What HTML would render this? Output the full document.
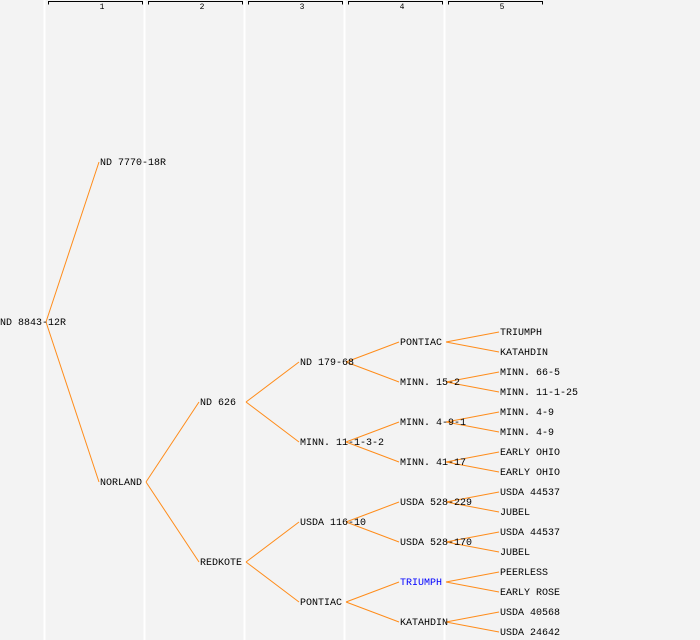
<!DOCTYPE html>
<html><head><style>
html,body{margin:0;padding:0;background:#f3f3f3;}
svg{display:block;}
text{font-family:"Liberation Mono","DejaVu Sans Mono",monospace;font-size:10px;fill:#000;}
.h{font-size:8px;text-anchor:middle;}
</style></head><body>
<svg width="700" height="640" viewBox="0 0 700 640">
<rect width="700" height="640" fill="#f3f3f3"/>
<g stroke="#fff" stroke-width="2">
<line x1="44.5" y1="0" x2="44.5" y2="640"/><line x1="144.5" y1="0" x2="144.5" y2="640"/>
<line x1="244.5" y1="0" x2="244.5" y2="640"/><line x1="344.5" y1="0" x2="344.5" y2="640"/>
<line x1="444.5" y1="0" x2="444.5" y2="640"/>
</g>
<g stroke="#000" stroke-width="1" fill="none">
<path d="M48.5 4.5V1.5H142.5V4.5"/><path d="M148.5 4.5V1.5H242.5V4.5"/><path d="M248.5 4.5V1.5H342.5V4.5"/><path d="M348.5 4.5V1.5H442.5V4.5"/><path d="M448.5 4.5V1.5H542.5V4.5"/>
</g>
<text class="h" x="102" y="9">1</text><text class="h" x="202" y="9">2</text><text class="h" x="302" y="9">3</text><text class="h" x="402" y="9">4</text><text class="h" x="502" y="9">5</text>
<g stroke="#ff8c1a" stroke-width="1" fill="none">
<path d="M46 322L99 162M46 322L99 482"/>
<path d="M146 482L199 402M146 482L199 562"/>
<path d="M246 402L299 362M246 402L299 442M246 562L299 522M246 562L299 602"/>
<path d="M346 362L399 342M346 362L399 382M346 442L399 422M346 442L399 462M346 522L399 502M346 522L399 542M346 602L399 582M346 602L399 622"/>
<path d="M446 342L499 332M446 342L499 352M446 382L499 372M446 382L499 392M446 422L499 412M446 422L499 432M446 462L499 452M446 462L499 472M446 502L499 492M446 502L499 512M446 542L499 532M446 542L499 552M446 582L499 572M446 582L499 592M446 622L499 612M446 622L499 632"/>
</g>
<g transform="translate(0,-1)">
<text x="0" y="326">ND 8843-12R</text>
<text x="100" y="166">ND 7770-18R</text><text x="100" y="486">NORLAND</text>
<text x="200" y="406">ND 626</text><text x="200" y="566">REDKOTE</text>
<text x="300" y="366">ND 179-68</text><text x="300" y="446">MINN. 11-1-3-2</text><text x="300" y="526">USDA 116-10</text><text x="300" y="606">PONTIAC</text>
<text x="400" y="346">PONTIAC</text><text x="400" y="386">MINN. 15-2</text><text x="400" y="426">MINN. 4-9-1</text><text x="400" y="466">MINN. 41-17</text><text x="400" y="506">USDA 528-229</text><text x="400" y="546">USDA 528-170</text><text x="400" y="586" style="fill:#0000ff">TRIUMPH</text><text x="400" y="626">KATAHDIN</text>
<text x="500" y="336">TRIUMPH</text><text x="500" y="356">KATAHDIN</text><text x="500" y="376">MINN. 66-5</text><text x="500" y="396">MINN. 11-1-25</text><text x="500" y="416">MINN. 4-9</text><text x="500" y="436">MINN. 4-9</text><text x="500" y="456">EARLY OHIO</text><text x="500" y="476">EARLY OHIO</text><text x="500" y="496">USDA 44537</text><text x="500" y="516">JUBEL</text><text x="500" y="536">USDA 44537</text><text x="500" y="556">JUBEL</text><text x="500" y="576">PEERLESS</text><text x="500" y="596">EARLY ROSE</text><text x="500" y="616">USDA 40568</text><text x="500" y="636">USDA 24642</text>
</g>
</svg>
</body></html>
